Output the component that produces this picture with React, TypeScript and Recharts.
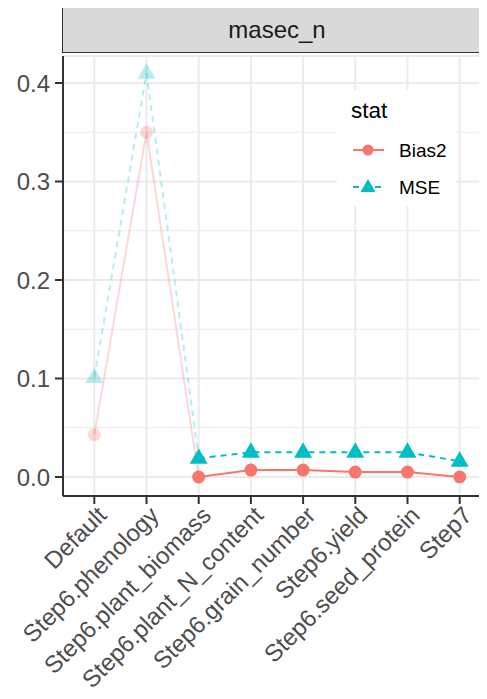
import React from 'react'
import {LineChart, Line, CartesianGrid, Legend, ReferenceLine, XAxis, YAxis} from 'recharts'

const categories = [
  'Default',
  'Step6.phenology',
  'Step6.plant_biomass',
  'Step6.plant_N_content',
  'Step6.grain_number',
  'Step6.yield',
  'Step6.seed_protein',
  'Step7',
]
const bias2 = [0.043, 0.35, 0.0, 0.007, 0.007, 0.005, 0.005, 0.0]
const mse = [0.101, 0.41, 0.019, 0.025, 0.025, 0.025, 0.025, 0.016]
// first two steps are drawn faded
const fadedUntil = 2
const yTicks = [0, 0.1, 0.2, 0.3, 0.4]
const yMinor = [0.05, 0.15, 0.25, 0.35]

const RED = '#F8766D'
const CYAN = '#00BFC4'
const FONT = '"Liberation Sans", Arial, sans-serif'

const data = categories.map((name, i) => ({
  i,
  name,
  bias2Faded: i <= fadedUntil ? bias2[i] : null,
  mseFaded: i <= fadedUntil ? mse[i] : null,
  bias2: i >= fadedUntil ? bias2[i] : null,
  mse: i >= fadedUntil ? mse[i] : null,
}))

const Circle = (props: any) => {
  const {cx, cy, index, value, faded} = props
  if (value == null || cx == null || (faded && index >= fadedUntil)) return null
  return <circle key={index} cx={cx} cy={cy} r={6.5} fill={RED} fillOpacity={faded ? 0.28 : 1} />
}

const Triangle = (props: any) => {
  const {cx, cy, index, value, faded} = props
  if (value == null || cx == null || (faded && index >= fadedUntil)) return null
  const pts = `${cx},${cy - 10} ${cx - 9},${cy + 5.5} ${cx + 9},${cy + 5.5}`
  return <polygon key={index} points={pts} fill={CYAN} fillOpacity={faded ? 0.28 : 1} />
}

const XTick = (props: any) => {
  const {x, y, payload} = props
  return (
    <g transform={`translate(${x + 1},${y - 2})`}>
      <text x={0} y={0} dy="0.75em" textAnchor="end" transform="rotate(-45)"
        fontSize={24} fill="#4D4D4D" fontFamily={FONT}>
        {categories[payload.value]}
      </text>
    </g>
  )
}

const StatLegend = () => (
  <svg width={119} height={116} style={{display: 'block', background: '#fff'}}>
    <text x={14} y={28} fontSize={22.5} fill="#000" fontFamily={FONT}>stat</text>
    <line x1={16} x2={47} y1={60} y2={60} stroke={RED} strokeWidth={2} />
    <circle cx={31} cy={60} r={5.5} fill={RED} />
    <text x={62} y={60} dy="0.355em" fontSize={19} fill="#000" fontFamily={FONT}>Bias2</text>
    <line x1={16} x2={47} y1={97} y2={97} stroke={CYAN} strokeWidth={2} strokeDasharray="6 5" />
    <polygon points="31,89 23.5,102 38.5,102" fill={CYAN} />
    <text x={62} y={97} dy="0.355em" fontSize={19} fill="#000" fontFamily={FONT}>MSE</text>
  </svg>
)

export default function App() {
  return (
    <div style={{position: 'relative', margin: -8, width: 487, height: 699, overflow: 'hidden', background: '#fff', fontFamily: FONT}}>
      <div style={{
        position: 'absolute', left: 62, top: 7, width: 430, height: 46,
        background: '#D9D9D9', border: '1.5px solid #333', boxSizing: 'border-box',
        display: 'flex', alignItems: 'center', justifyContent: 'center',
        fontSize: 24, color: '#1A1A1A',
      }}>
        masec_n
      </div>
      <LineChart width={500} height={699} data={data}
        margin={{top: 56, right: 9, bottom: 0, left: 0}}
        style={{position: 'absolute', left: 0, top: 0}}>
        <CartesianGrid stroke="#EBEBEB" strokeWidth={2} />
        {yMinor.map(v => (
          <ReferenceLine key={v} y={v} stroke="#EBEBEB" strokeWidth={1} />
        ))}
        <XAxis dataKey="i" type="number" domain={[-0.6, 7.6]} ticks={[0, 1, 2, 3, 4, 5, 6, 7]}
          allowDataOverflow height={203} interval={0}
          axisLine={{stroke: '#333', strokeWidth: 2}} tickLine={{stroke: '#333', strokeWidth: 2}}
          tickSize={8} tick={<XTick />} />
        <YAxis type="number" domain={[-0.0193, 0.4274]} ticks={yTicks} allowDataOverflow width={63}
          axisLine={{stroke: '#333', strokeWidth: 2}} tickLine={{stroke: '#333', strokeWidth: 2}}
          tickSize={8} tickMargin={5} tickFormatter={(v: number) => v.toFixed(1)}
          tick={{fontSize: 24, fill: '#4D4D4D', fontFamily: FONT}} />
        <Line dataKey="bias2Faded" stroke={RED} strokeOpacity={0.28} strokeWidth={2}
          dot={<Circle faded />} activeDot={false} isAnimationActive={false} legendType="none" />
        <Line dataKey="mseFaded" stroke={CYAN} strokeOpacity={0.28} strokeWidth={2} strokeDasharray="6 5"
          dot={<Triangle faded />} activeDot={false} isAnimationActive={false} legendType="none" />
        <Line dataKey="bias2" stroke={RED} strokeWidth={2}
          dot={<Circle />} activeDot={false} isAnimationActive={false} />
        <Line dataKey="mse" stroke={CYAN} strokeWidth={2} strokeDasharray="6 5"
          dot={<Triangle />} activeDot={false} isAnimationActive={false} />
        <Legend layout="vertical" align="center" verticalAlign="middle" content={<StatLegend />}
          wrapperStyle={{position: 'absolute', left: 337, top: 90, width: 119, height: 116}} />
      </LineChart>
    </div>
  )
}
